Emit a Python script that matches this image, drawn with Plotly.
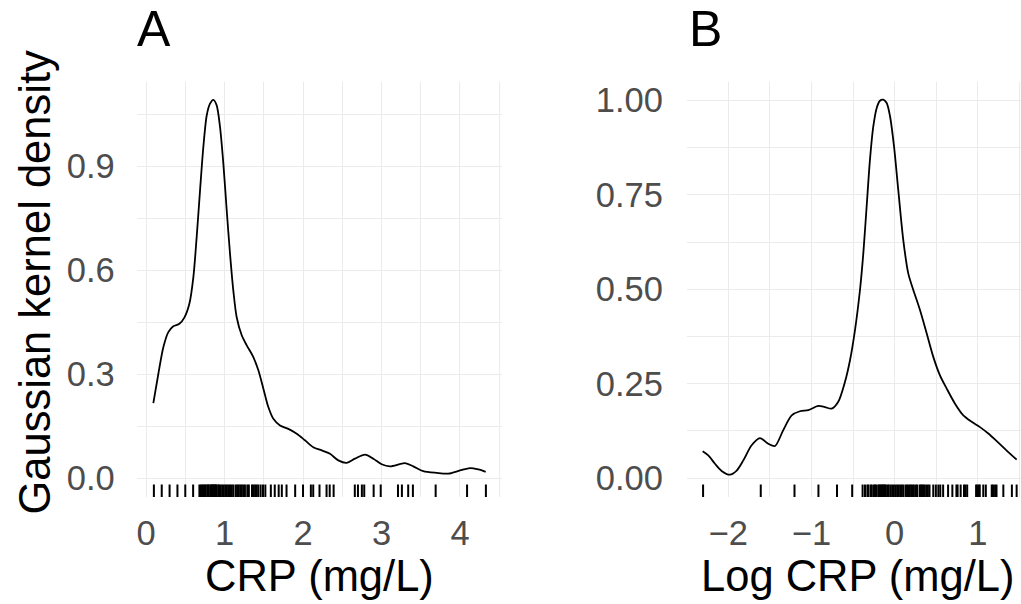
import numpy as np
import plotly.graph_objects as go

# ---- Panel A: density of CRP ----
crp_x = [0.093, 0.157, 0.221, 0.284, 0.348, 0.425, 0.488, 0.552, 0.603, 0.645,
         0.688, 0.730, 0.773, 0.815, 0.858, 0.900, 0.943, 0.985, 1.028, 1.070,
         1.112, 1.155, 1.219, 1.283, 1.367, 1.431, 1.495, 1.558, 1.622, 1.707,
         1.813, 1.920, 2.025, 2.131, 2.238, 2.344, 2.450, 2.556, 2.662, 2.790,
         2.896, 3.002, 3.108, 3.299, 3.405, 3.532, 3.703, 3.851, 4.000, 4.127,
         4.233, 4.327]
crp_density = [0.216, 0.301, 0.378, 0.421, 0.438, 0.445, 0.463, 0.503, 0.580, 0.695,
               0.830, 0.955, 1.046, 1.080, 1.091, 1.075, 1.012, 0.907, 0.772, 0.647,
               0.541, 0.464, 0.412, 0.383, 0.349, 0.311, 0.258, 0.205, 0.171, 0.152,
               0.142, 0.128, 0.109, 0.089, 0.080, 0.070, 0.051, 0.044, 0.056, 0.068,
               0.056, 0.040, 0.034, 0.043, 0.034, 0.020, 0.015, 0.013, 0.022, 0.029,
               0.025, 0.018]

# ---- Panel B: density of log CRP ----
log_x = [-2.308, -2.240, -2.160, -2.080, -1.980, -1.899, -1.819, -1.719, -1.619, -1.519,
         -1.439, -1.339, -1.238, -1.138, -1.038, -0.918, -0.838, -0.757, -0.678, -0.597,
         -0.537, -0.477, -0.417, -0.377, -0.337, -0.297, -0.257, -0.216, -0.177, -0.137,
         -0.096, -0.056, -0.008, 0.043, 0.103, 0.163, 0.224, 0.304, 0.385, 0.464,
         0.544, 0.625, 0.725, 0.825, 0.925, 1.025, 1.125, 1.226, 1.346, 1.466]
log_density = [0.071, 0.060, 0.038, 0.019, 0.009, 0.020, 0.047, 0.087, 0.106, 0.091,
               0.085, 0.127, 0.166, 0.177, 0.180, 0.191, 0.188, 0.184, 0.202, 0.255,
               0.312, 0.392, 0.498, 0.595, 0.719, 0.843, 0.931, 0.980, 0.999, 1.002,
               0.993, 0.958, 0.878, 0.763, 0.631, 0.542, 0.498, 0.445, 0.383, 0.321,
               0.272, 0.237, 0.197, 0.166, 0.149, 0.135, 0.118, 0.098, 0.073, 0.049]

# ---- Observed CRP values (rug) ----
crp_rug = [0.10, 0.20, 0.30, 0.40, 0.50, 0.60,
           0.68, 0.70, 0.72, 0.73, 0.75, 0.76, 0.78, 0.79, 0.80, 0.82, 0.83, 0.84,
           0.85, 0.86, 0.87, 0.88, 0.89, 0.90, 0.92, 0.93, 0.95, 0.97, 0.99, 1.01,
           1.03, 1.05, 1.07, 1.09, 1.11, 1.14, 1.16, 1.18, 1.20, 1.22, 1.24, 1.26,
           1.29, 1.31, 1.35, 1.37, 1.39, 1.41, 1.43, 1.46, 1.49, 1.52,
           1.59, 1.64, 1.69, 1.73, 1.79, 1.90, 2.00, 2.10, 2.13, 2.21, 2.30, 2.34,
           2.39, 2.66, 2.70, 2.75, 2.78, 2.90, 2.99, 3.21, 3.26, 3.34, 3.40, 3.69,
           4.09, 4.33]
log_rug = [float(np.log(v)) for v in crp_rug]

# ---- Ticks ----
xa_ticks = [0, 1, 2, 3, 4]
xa_labels = ["0", "1", "2", "3", "4"]
ya_ticks = [0.0, 0.3, 0.6, 0.9]
ya_labels = ["0.0", "0.3", "0.6", "0.9"]
xb_ticks = [-2, -1, 0, 1]
xb_labels = ["\u22122", "\u22121", "0", "1"]
yb_ticks = [0.0, 0.25, 0.5, 0.75, 1.0]
yb_labels = ["0.00", "0.25", "0.50", "0.75", "1.00"]

W, H = 1021, 604
FONT = "Liberation Sans, Arial, sans-serif"
GRID = "#EBEBEB"
TICKC = "#4D4D4D"


def fx(px):
    return px / W


def fy(py):
    return 1 - py / H


xa_range = [-0.119, 4.539]
ya_range = [-0.0545, 1.144]
xb_range = [-2.497, 1.518]
yb_range = [-0.05, 1.05]


def rug_xy(vals, yr, frac=0.03):
    y0 = yr[0]
    y1 = yr[0] + frac * (yr[1] - yr[0])
    xs, ys = [], []
    for v in vals:
        xs += [v, v, None]
        ys += [y0, y1, None]
    return xs, ys


fig = go.Figure()
fig.add_trace(go.Scatter(x=crp_x, y=crp_density, mode="lines",
                         line=dict(color="black", width=1.8, shape="spline", smoothing=0.8),
                         xaxis="x", yaxis="y", showlegend=False, hoverinfo="skip"))
rx, ry = rug_xy(crp_rug, ya_range)
fig.add_trace(go.Scatter(x=rx, y=ry, mode="lines", line=dict(color="black", width=2),
                         xaxis="x", yaxis="y", showlegend=False, hoverinfo="skip"))

fig.add_trace(go.Scatter(x=log_x, y=log_density, mode="lines",
                         line=dict(color="black", width=1.8, shape="spline", smoothing=0.8),
                         xaxis="x2", yaxis="y2", showlegend=False, hoverinfo="skip"))
rx, ry = rug_xy(log_rug, yb_range)
fig.add_trace(go.Scatter(x=rx, y=ry, mode="lines", line=dict(color="black", width=2),
                         xaxis="x2", yaxis="y2", showlegend=False, hoverinfo="skip"))

ydom = [fy(497), fy(81.5)]
common = dict(showline=False, zeroline=False, ticks="", showgrid=True,
              gridcolor=GRID, gridwidth=1.4,
              tickfont=dict(family=FONT, size=34.5, color=TICKC))

fig.update_layout(
    width=W, height=H, autosize=False,
    margin=dict(l=0, r=0, t=0, b=0),
    paper_bgcolor="white", plot_bgcolor="white",
    font=dict(family=FONT),
    xaxis=dict(domain=[fx(136.7), fx(502.3)], range=xa_range, tickvals=xa_ticks,
               ticktext=xa_labels, anchor="y", ticklabelstandoff=12,
               minor=dict(dtick=0.5, tick0=0, showgrid=True, gridcolor=GRID, gridwidth=1.0),
               **common),
    yaxis=dict(domain=ydom, range=ya_range, tickvals=ya_ticks, ticktext=ya_labels,
               anchor="x", ticklabelstandoff=21,
               minor=dict(dtick=0.15, tick0=0, showgrid=True, gridcolor=GRID, gridwidth=1.0),
               **common),
    xaxis2=dict(domain=[fx(686.9), 1.0], range=xb_range, tickvals=xb_ticks,
                ticktext=xb_labels, anchor="y2", ticklabelstandoff=12,
                minor=dict(dtick=0.5, tick0=0, showgrid=True, gridcolor=GRID, gridwidth=1.0),
                **common),
    yaxis2=dict(domain=ydom, range=yb_range, tickvals=yb_ticks, ticktext=yb_labels,
                anchor="x2", ticklabelstandoff=23,
                minor=dict(dtick=0.125, tick0=0, showgrid=True, gridcolor=GRID, gridwidth=1.0),
                **common),
)

ann = [
    dict(text="A", x=fx(136), y=1.0, xanchor="left", yanchor="top", borderpad=0,
         font=dict(size=50, color="black", family=FONT)),
    dict(text="B", x=fx(688), y=1.0, xanchor="left", yanchor="top", borderpad=0,
         font=dict(size=50, color="black", family=FONT)),
    dict(text="CRP (mg/L)", x=fx(319.5), y=fy(576), xanchor="center", yanchor="middle",
         font=dict(size=43.5, color="black", family=FONT)),
    dict(text="Log CRP (mg/L)", x=fx(858), y=fy(576), xanchor="center", yanchor="middle",
         font=dict(size=43.5, color="black", family=FONT)),
    dict(text="Gaussian kernel density", x=fx(34.5), y=fy(283), xanchor="center",
         yanchor="middle", textangle=-90,
         font=dict(size=43.5, color="black", family=FONT)),
]
for a in ann:
    a.update(xref="paper", yref="paper", showarrow=False)
fig.update_layout(annotations=ann)

# remove the default 8 px page margin so the 1021x604 figure fills the window exactly
fig.write_html("out.html",
               config={"displayModeBar": False},
               post_script="document.body.style.margin='0';document.body.style.overflow='hidden';")
